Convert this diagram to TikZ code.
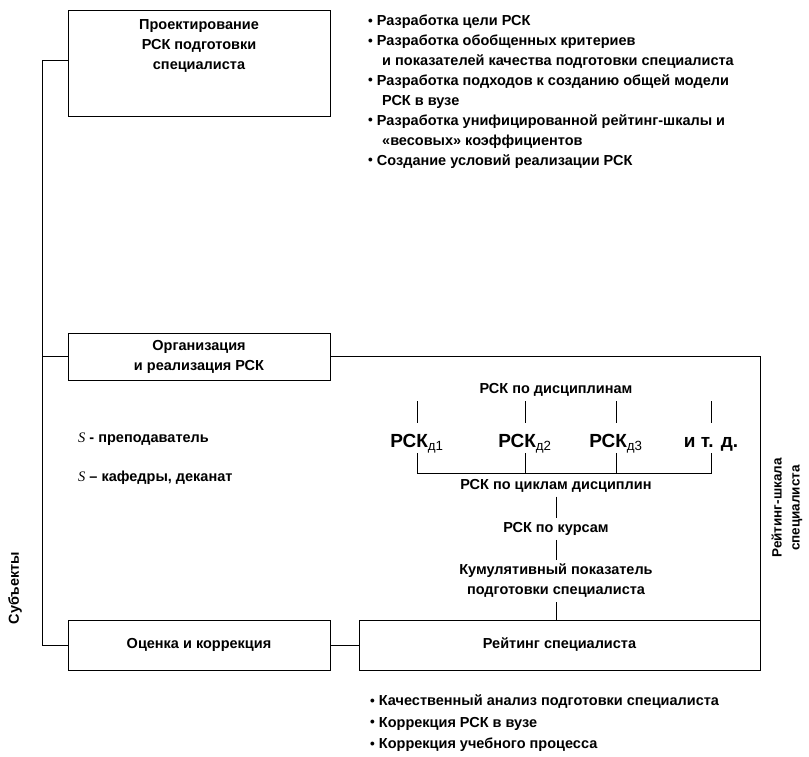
\documentclass[tikz,border=0pt]{standalone}
\usepackage{fontspec}
\setmainfont{Liberation Sans}
\newfontfamily\serifit{Liberation Serif}
\usetikzlibrary{positioning}

\newcommand{\bul}{\raisebox{0.6pt}{\fontsize{13.5}{13.5}\selectfont\textbullet}\ }
\newcommand{\rsk}[1]{РСК\textsubscript{\mdseries #1}}

\begin{document}
\begin{tikzpicture}[x=1pt,y=-1pt,
    box/.style={draw, line width=1pt, minimum width=262pt, inner sep=0pt, font=\fontsize{14.5}{20}\selectfont\bfseries},
    txt/.style={font=\fontsize{14.5}{20}\selectfont\bfseries, align=center, inner sep=0pt},
    lst/.style={font=\fontsize{14.5}{19.9}\selectfont\bfseries, align=left, inner sep=0pt, anchor=north west},
    big/.style={font=\fontsize{19}{22}\selectfont\bfseries, inner sep=0pt, text height=14pt, text depth=5pt, anchor=base},
    ln/.style={line width=1pt}]
    \useasboundingbox (0,0) rectangle (809,757);
    % boxes
    \node[box, minimum height=106pt] (proj) at (199,64) {};
    \node[txt, anchor=north] (projtxt) at (199,19) {Проектирование\\РСК подготовки\\специалиста};
    \node[box, minimum height=47pt] (org) at (199,356.5) {};
    \node[txt] (orgtxt) at (org) {Организация\\и реализация РСК};
    \node[box, minimum height=50pt] (ocen) at (199,645) {Оценка и коррекция};
    \node[box, minimum width=401pt, minimum height=50pt] (reit) at (559.5,645) {Рейтинг специалиста};
    % subjects line
    \coordinate (lt) at (42,61);
    \draw[ln] (proj.west |- lt) -- (lt) |- (ocen.west);
    \draw[ln] (org.west) -- (org.west -| lt);
    \draw[ln] (org.east) -| (reit.north east);
    \draw[ln] (ocen.east) -- (reit.west);
    % top list
    \node[lst] (goals) at (368,15) {\bul Разработка цели РСК\\
      \bul Разработка обобщенных критериев\\
      \hspace*{14pt}и показателей качества подготовки специалиста\\
      \bul Разработка подходов к созданию общей модели\\
      \hspace*{14pt}РСК в вузе\\
      \bul Разработка унифицированной рейтинг-шкалы и\\
      \hspace*{14pt}«весовых» коэффициентов\\
      \bul Создание условий реализации РСК};
    % subjects
    \node[txt, anchor=west] (sprep) at (78,439) {{\serifit\mdseries\itshape S} - преподаватель};
    \node[txt, anchor=west] (skaf) at (78,478) {{\serifit\mdseries\itshape S} – кафедры, деканат};
    \node[txt, rotate=90] (subj) at (15,588) {Субъекты};
    \node[txt, rotate=90, font=\fontsize{13.5}{18}\selectfont\bfseries] (scale) at (787,508) {Рейтинг-шкала\\специалиста};
    % disciplines
    \node[txt] (disc) at (556,390) {РСК по дисциплинам};
    \node[big] (d1) at (417,447) {\rsk{д1}};
    \node[big] (d2) at (525,447) {\rsk{д2}};
    \node[big] (d3) at (616,447) {\rsk{д3}};
    \node[big] (etc) at (711,447) {и т. д.};
    \foreach \n in {d1,d2,d3,etc}
      \draw[ln] ([yshift=10pt]\n.north) -- ++(0,-22);
    \coordinate (br) at (0,473);
    \draw[ln] ([yshift=-1pt]d1.south) -- (d1 |- br) -- (etc |- br) -- ([yshift=-1pt]etc.south);
    \draw[ln] ([yshift=-1pt]d2.south) -- (d2 |- br);
    \draw[ln] ([yshift=-1pt]d3.south) -- (d3 |- br);
    \node[txt] (cycl) at (556,486) {РСК по циклам дисциплин};
    \node[txt] (kurs) at (556,529) {РСК по курсам};
    \node[txt] (kum) at (556,581) {Кумулятивный показатель\\подготовки специалиста};
    \draw[ln] ([yshift=-4pt]cycl.south) -- ([yshift=4pt]kurs.north);
    \draw[ln] ([yshift=-4pt]kurs.south) -- ([yshift=4pt]kum.north);
    \draw[ln] ([yshift=-4pt]kum.south) -- (kum.south |- reit.north);
    % bottom list
    \node[lst, font=\fontsize{14.5}{21.5}\selectfont\bfseries] (corr) at (370,695) {\bul Качественный анализ подготовки специалиста\\
      \bul Коррекция РСК в вузе\\
      \bul Коррекция учебного процесса};
\end{tikzpicture}
\end{document}
